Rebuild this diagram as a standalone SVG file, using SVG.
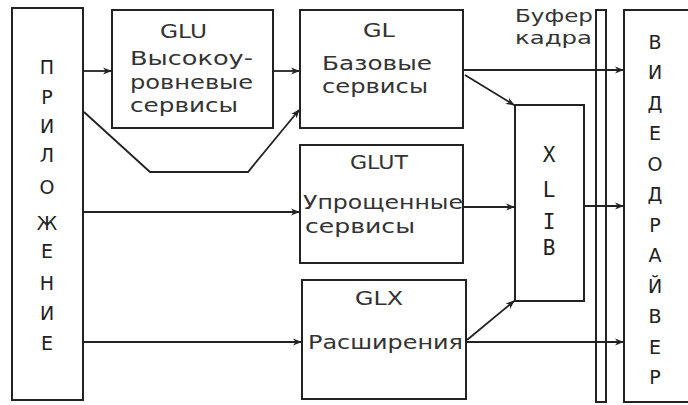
<svg xmlns="http://www.w3.org/2000/svg" width="688" height="405" viewBox="0 0 688 405">
<style>
.box{fill:#fff;stroke:#222;stroke-width:2}
.ln{fill:none;stroke:#222;stroke-width:1.8}
.t{font-family:"DejaVu Sans","Liberation Sans",sans-serif;font-size:20px;fill:#333}
.h{font-family:"DejaVu Sans","Liberation Sans",sans-serif;font-size:19px;fill:#333}
.v{font-family:"DejaVu Sans","Liberation Sans",sans-serif;font-size:19px;fill:#222;text-anchor:middle}
.m{font-family:"DejaVu Sans Mono","Liberation Mono",monospace;font-size:21px;fill:#222;text-anchor:middle}
.b{font-family:"DejaVu Sans","Liberation Sans",sans-serif;font-size:18px;fill:#333}
</style>
<defs>
<marker id="a" viewBox="0 0 10 10" refX="9" refY="5" markerWidth="9" markerHeight="9" markerUnits="userSpaceOnUse" orient="auto">
<path d="M0,1 L10,5 L0,9 L3,5 z" fill="#222"/>
</marker>
</defs>
<g id="prilozhenie">
<rect class="box" x="12" y="8" width="71" height="392"/>
<text class="v" x="47" y="74">П</text>
<text class="v" x="47" y="104">Р</text>
<text class="v" x="47" y="133">И</text>
<text class="v" x="47" y="162">Л</text>
<text class="v" x="47" y="194">О</text>
<text class="v" x="47" y="230">Ж</text>
<text class="v" x="47" y="258">Е</text>
<text class="v" x="47" y="290">Н</text>
<text class="v" x="47" y="320">И</text>
<text class="v" x="47" y="350">Е</text>
</g>
<g id="glu">
<rect class="box" x="112" y="10" width="161" height="118"/>
<text class="h" x="160" y="38" textLength="47" lengthAdjust="spacingAndGlyphs">GLU</text>
<text class="t" x="130" y="65" textLength="123" lengthAdjust="spacingAndGlyphs">Высокоу-</text>
<text class="t" x="130" y="89" textLength="123" lengthAdjust="spacingAndGlyphs">ровневые</text>
<text class="t" x="130" y="112" textLength="108" lengthAdjust="spacingAndGlyphs">сервисы</text>
</g>
<g id="gl">
<rect class="box" x="300" y="10" width="163" height="118"/>
<text class="h" x="363" y="37" textLength="32" lengthAdjust="spacingAndGlyphs">GL</text>
<text class="t" x="322" y="70" textLength="110" lengthAdjust="spacingAndGlyphs">Базовые</text>
<text class="t" x="322" y="93" textLength="106" lengthAdjust="spacingAndGlyphs">сервисы</text>
</g>
<g id="glut">
<rect class="box" x="300" y="145" width="163" height="118"/>
<text class="h" x="350" y="169" textLength="58" lengthAdjust="spacingAndGlyphs">GLUT</text>
<text class="t" x="303" y="209" textLength="160" lengthAdjust="spacingAndGlyphs">Упрощенные</text>
<text class="t" x="305" y="233" textLength="110" lengthAdjust="spacingAndGlyphs">сервисы</text>
</g>
<g id="glx">
<rect class="box" x="302" y="280" width="164" height="119"/>
<text class="h" x="355" y="305" textLength="48" lengthAdjust="spacingAndGlyphs">GLX</text>
<text class="t" x="308" y="349" textLength="155" lengthAdjust="spacingAndGlyphs">Расширения</text>
</g>
<g id="xlib">
<rect class="box" x="515" y="105" width="69" height="196"/>
<text class="m" x="549" y="162">X</text>
<text class="m" x="549" y="197">L</text>
<text class="m" x="549" y="229">I</text>
<text class="m" x="549" y="255">B</text>
</g>
<g id="bufer">
<rect class="box" x="596" y="10" width="10" height="392" stroke-width="1.6"/>
<text class="b" x="515" y="22" textLength="78" lengthAdjust="spacingAndGlyphs">Буфер</text>
<text class="b" x="515" y="44" textLength="77" lengthAdjust="spacingAndGlyphs">кадра</text>
</g>
<g id="videodriver">
<rect class="box" x="624" y="10" width="70" height="392"/>
<text class="v" x="655" y="49">В</text>
<text class="v" x="655" y="79">И</text>
<text class="v" x="655" y="110">Д</text>
<text class="v" x="655" y="140">Е</text>
<text class="v" x="655" y="171">О</text>
<text class="v" x="655" y="201">Д</text>
<text class="v" x="655" y="232">Р</text>
<text class="v" x="655" y="262">А</text>
<text class="v" x="655" y="293">Й</text>
<text class="v" x="655" y="323">В</text>
<text class="v" x="655" y="354">Е</text>
<text class="v" x="655" y="384">Р</text>
</g>
<g id="connectors">
<path class="ln" d="M83,71 H111" marker-end="url(#a)"/>
<path class="ln" d="M273,71 H299" marker-end="url(#a)"/>
<path class="ln" d="M84,112 L150,172 H248 L299,110" marker-end="url(#a)"/>
<path class="ln" d="M463,70 H623" marker-end="url(#a)"/>
<path class="ln" d="M465,75 L514,105" marker-end="url(#a)"/>
<path class="ln" d="M83,212 H299" marker-end="url(#a)"/>
<path class="ln" d="M463,207 H514" marker-end="url(#a)"/>
<path class="ln" d="M584,206 H623" marker-end="url(#a)"/>
<path class="ln" d="M83,342 H301" marker-end="url(#a)"/>
<path class="ln" d="M466,342 H623" marker-end="url(#a)"/>
<path class="ln" d="M467,340 L514,301" marker-end="url(#a)"/>
</g>
</svg>
